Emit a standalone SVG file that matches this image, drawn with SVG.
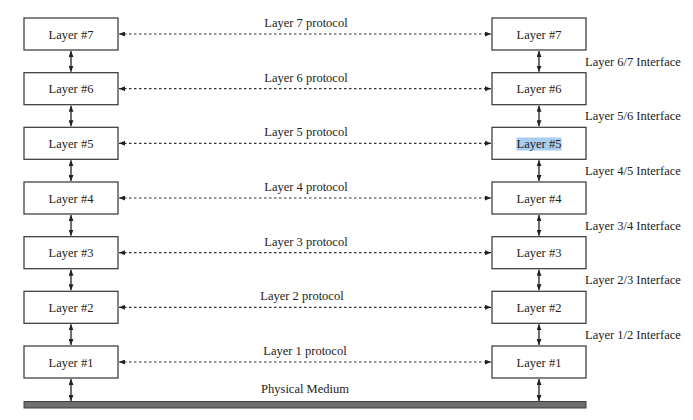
<svg xmlns="http://www.w3.org/2000/svg" width="693" height="420" viewBox="0 0 693 420">
<defs>
<marker id="ah" markerUnits="userSpaceOnUse" markerWidth="6" markerHeight="5" refX="6" refY="2.5" orient="auto-start-reverse">
<path d="M0,0 L6,2.5 L0,5 z" fill="#222"/>
</marker>
<style>
.box{fill:#fff;stroke:#333;stroke-width:1.2}
text{font-family:"Liberation Serif","Times New Roman",serif;font-size:12.5px;fill:#222}
.c{text-anchor:middle}
.dash{stroke:#333;stroke-width:1.2;stroke-dasharray:2.5 2.5;fill:none}
.v{stroke:#222;stroke-width:1.3;fill:none}
</style>
</defs>
<rect width="693" height="420" fill="#fff"/>
<g id="connectors">
<line class="dash" x1="119" y1="34" x2="491" y2="34" marker-start="url(#ah)" marker-end="url(#ah)"/>
<line class="dash" x1="119" y1="88.7" x2="491" y2="88.7" marker-start="url(#ah)" marker-end="url(#ah)"/>
<line class="dash" x1="119" y1="143.3" x2="491" y2="143.3" marker-start="url(#ah)" marker-end="url(#ah)"/>
<line class="dash" x1="119" y1="198" x2="491" y2="198" marker-start="url(#ah)" marker-end="url(#ah)"/>
<line class="dash" x1="119" y1="252.7" x2="491" y2="252.7" marker-start="url(#ah)" marker-end="url(#ah)"/>
<line class="dash" x1="119" y1="307.3" x2="491" y2="307.3" marker-start="url(#ah)" marker-end="url(#ah)"/>
<line class="dash" x1="119" y1="362" x2="491" y2="362" marker-start="url(#ah)" marker-end="url(#ah)"/>
<line class="v" x1="71" y1="51" x2="71" y2="71.7" marker-start="url(#ah)" marker-end="url(#ah)"/>
<line class="v" x1="71" y1="105.7" x2="71" y2="126.3" marker-start="url(#ah)" marker-end="url(#ah)"/>
<line class="v" x1="71" y1="160.3" x2="71" y2="181" marker-start="url(#ah)" marker-end="url(#ah)"/>
<line class="v" x1="71" y1="215" x2="71" y2="235.7" marker-start="url(#ah)" marker-end="url(#ah)"/>
<line class="v" x1="71" y1="269.7" x2="71" y2="290.3" marker-start="url(#ah)" marker-end="url(#ah)"/>
<line class="v" x1="71" y1="324.3" x2="71" y2="345" marker-start="url(#ah)" marker-end="url(#ah)"/>
<line class="v" x1="71" y1="379" x2="71" y2="401" marker-start="url(#ah)" marker-end="url(#ah)"/>
<line class="v" x1="539" y1="51" x2="539" y2="71.7" marker-start="url(#ah)" marker-end="url(#ah)"/>
<line class="v" x1="539" y1="105.7" x2="539" y2="126.3" marker-start="url(#ah)" marker-end="url(#ah)"/>
<line class="v" x1="539" y1="160.3" x2="539" y2="181" marker-start="url(#ah)" marker-end="url(#ah)"/>
<line class="v" x1="539" y1="215" x2="539" y2="235.7" marker-start="url(#ah)" marker-end="url(#ah)"/>
<line class="v" x1="539" y1="269.7" x2="539" y2="290.3" marker-start="url(#ah)" marker-end="url(#ah)"/>
<line class="v" x1="539" y1="324.3" x2="539" y2="345" marker-start="url(#ah)" marker-end="url(#ah)"/>
<line class="v" x1="539" y1="379" x2="539" y2="401" marker-start="url(#ah)" marker-end="url(#ah)"/>
</g>
<g id="protocol-labels">
<text class="c" x="306" y="27">Layer 7 protocol</text>
<text class="c" x="306" y="81.7">Layer 6 protocol</text>
<text class="c" x="306" y="136.3">Layer 5 protocol</text>
<text class="c" x="306" y="191">Layer 4 protocol</text>
<text class="c" x="306" y="245.7">Layer 3 protocol</text>
<text class="c" x="302" y="300.3">Layer 2 protocol</text>
<text class="c" x="305" y="355">Layer 1 protocol</text>
</g>
<g id="interface-labels">
<text x="585" y="65.5">Layer 6/7 Interface</text>
<text x="585" y="120.2">Layer 5/6 Interface</text>
<text x="585" y="174.8">Layer 4/5 Interface</text>
<text x="585" y="229.5">Layer 3/4 Interface</text>
<text x="585" y="284.2">Layer 2/3 Interface</text>
<text x="585" y="338.8">Layer 1/2 Interface</text>
</g>
<g id="L7"><rect class="box" x="24" y="18" width="94" height="32"/><text class="c" x="71" y="38.5">Layer #7</text></g>
<g id="L6"><rect class="box" x="24" y="72.7" width="94" height="32"/><text class="c" x="71" y="93.2">Layer #6</text></g>
<g id="L5"><rect class="box" x="24" y="127.3" width="94" height="32"/><text class="c" x="71" y="147.8">Layer #5</text></g>
<g id="L4"><rect class="box" x="24" y="182" width="94" height="32"/><text class="c" x="71" y="202.5">Layer #4</text></g>
<g id="L3"><rect class="box" x="24" y="236.7" width="94" height="32"/><text class="c" x="71" y="257.2">Layer #3</text></g>
<g id="L2"><rect class="box" x="24" y="291.3" width="94" height="32"/><text class="c" x="71" y="311.8">Layer #2</text></g>
<g id="L1"><rect class="box" x="24" y="346" width="94" height="32"/><text class="c" x="71" y="366.5">Layer #1</text></g>
<g id="R7"><rect class="box" x="492" y="18" width="94" height="32"/><text class="c" x="539" y="38.5">Layer #7</text></g>
<g id="R6"><rect class="box" x="492" y="72.7" width="94" height="32"/><text class="c" x="539" y="93.2">Layer #6</text></g>
<g id="R5"><rect class="box" x="492" y="127.3" width="94" height="32"/><rect x="516.5" y="137.5" width="45" height="13" fill="#a9cdee"/><text class="c" x="539" y="147.8">Layer #5</text></g>
<g id="R4"><rect class="box" x="492" y="182" width="94" height="32"/><text class="c" x="539" y="202.5">Layer #4</text></g>
<g id="R3"><rect class="box" x="492" y="236.7" width="94" height="32"/><text class="c" x="539" y="257.2">Layer #3</text></g>
<g id="R2"><rect class="box" x="492" y="291.3" width="94" height="32"/><text class="c" x="539" y="311.8">Layer #2</text></g>
<g id="R1"><rect class="box" x="492" y="346" width="94" height="32"/><text class="c" x="539" y="366.5">Layer #1</text></g>
<g id="medium">
<rect x="24" y="401.5" width="562" height="6.5" fill="#6f6f6f" stroke="#3f3f3f" stroke-width="1"/>
<text class="c" x="305" y="393">Physical Medium</text>
</g>
</svg>
